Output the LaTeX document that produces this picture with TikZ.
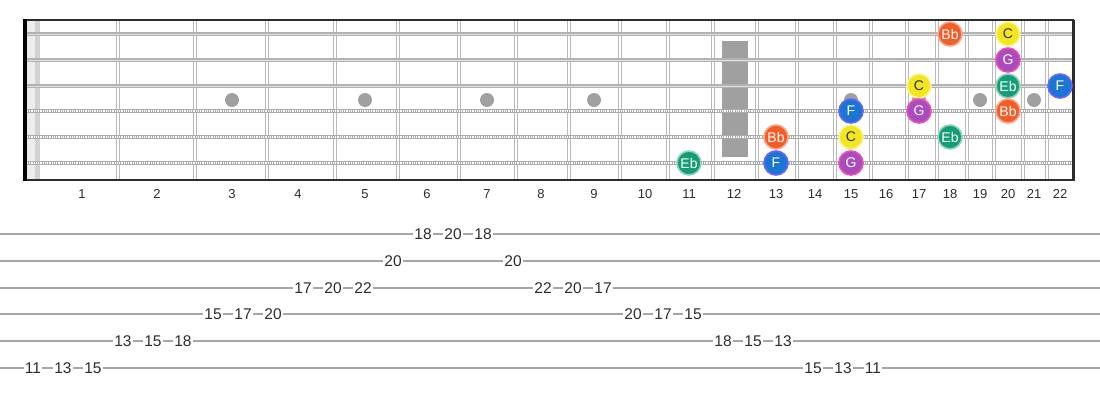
\documentclass[tikz,border=0pt]{standalone}
\usepackage{fontspec}
\setmainfont{Liberation Sans}
\usepackage{xcolor}
\definecolor{noteBb}{RGB}{244,92,40}
\definecolor{noteC}{RGB}{244,230,30}
\definecolor{noteG}{RGB}{168,76,190}
\definecolor{noteEb}{RGB}{20,158,118}
\definecolor{noteF}{RGB}{26,118,208}
\definecolor{inlay}{RGB}{160,160,160}
\definecolor{ink}{RGB}{45,45,45}

\begin{document}
\begin{tikzpicture}[x=1pt, y=-1pt,
  fret/.style={line width=4pt, draw=gray!55},
  fretgap/.style={line width=1.6pt, draw=white},
  plain/.style={line width=3.4pt, draw=gray!60},
  plaincore/.style={line width=1pt, draw=gray!25},
  wound/.style={line width=4.5pt, draw=gray!65},
  woundcore/.style={line width=2.6pt, draw=white, dash pattern=on 0.8pt off 1pt},
  tabline/.style={line width=2pt, draw=gray!70},
  fretnum/.style={font=\fontsize{13}{15}\selectfont, text=ink},
  tabnum/.style={font=\fontsize{15.5}{18}\selectfont, text=ink, fill=white, inner sep=1.2pt},
  note/.style={circle, minimum size=24pt, inner sep=0pt, line width=1.6pt, text=white, font=\fontsize{14}{16}\selectfont},
  Bb/.style={note, fill=noteBb, draw=noteBb!55!white},
  C/.style={note, fill=noteC, draw=noteC!45!white, text=ink},
  G/.style={note, fill=noteG, draw=magenta!70!white},
  Eb/.style={note, fill=noteEb, draw=noteEb!45!white},
  F/.style={note, fill=noteF, draw=blue!60!white}]
\useasboundingbox (0,0) rectangle (1100,400);

\foreach \s/\y in {1/34,2/60,3/86,4/111,5/137,6/163}
  \coordinate (s\s) at (0,\y);
\foreach \n/\x in {1/82,2/157,3/232,4/298,5/365,6/427,7/487,8/541,9/594,10/645,11/689,12/734,13/776,14/815,15/851,16/886,17/919,18/950,19/980,20/1008,21/1034,22/1060}
  \coordinate (m\n) at (\x,0);

\fill[gray!15] (27,20) rectangle (40,180);
\fill[gray!35] (35,20) rectangle (40,180);
\fill[inlay] (722,41) rectangle (748,157);
\foreach \n in {3,5,7,9,15,17,19,21}
  \fill[inlay] (m\n |- 0,100) circle (7);

\foreach \x in {118,195,267,335,398,459,516,569,620,668,713,757,797,835,871,907,937,967,994,1023,1047}
{
  \draw[fret] (\x,20) -- (\x,180);
  \draw[fretgap] (\x,20) -- (\x,180);
}

\foreach \s in {1,2,3}
{
  \draw[plain] (s\s) ++(27,0) -- ++(1045,0);
  \draw[plaincore] (s\s) ++(27,0) -- ++(1045,0);
}
\foreach \s in {4,5,6}
{
  \draw[wound] (s\s) ++(27,0) -- ++(1045,0);
  \draw[woundcore] (s\s) ++(27,0) -- ++(1045,0);
}

\draw[line width=2pt, ink] (23,20) -- (1074,20);
\draw[line width=2pt, ink] (23,180) -- (1074,180);
\draw[line width=3pt, ink] (1073,20) -- (1073,181);
\fill[black] (23,19) rectangle (27,181);

\foreach \n in {1,...,22}
  \node[fretnum] (fn\n) at (m\n |- 0,194) {\n};

\node[Bb] (bb1) at (m18 |- s1) {Bb};
\node[C]  (c1)  at (m20 |- s1) {C};
\node[G]  (g2)  at (m20 |- s2) {G};
\node[C]  (c3)  at (m17 |- s3) {C};
\node[Eb] (eb3) at (m20 |- s3) {Eb};
\node[F]  (f3)  at (m22 |- s3) {F};
\node[F]  (f4)  at (m15 |- s4) {F};
\node[G]  (g4)  at (m17 |- s4) {G};
\node[Bb] (bb4) at (m20 |- s4) {Bb};
\node[Bb] (bb5) at (m13 |- s5) {Bb};
\node[C]  (c5)  at (m15 |- s5) {C};
\node[Eb] (eb5) at (m18 |- s5) {Eb};
\node[Eb] (eb6) at (m11 |- s6) {Eb};
\node[F]  (f6)  at (m13 |- s6) {F};
\node[G]  (g6)  at (m15 |- s6) {G};

\foreach \t/\y in {1/234,2/261,3/288,4/314,5/341,6/368}
{
  \coordinate (t\t) at (0,\y);
  \draw[tabline] (t\t) -- ++(1100,0);
}
\foreach \t/\v [count=\k from 0] in {6/11,6/13,6/15,5/13,5/15,5/18,4/15,4/17,4/20,3/17,3/20,3/22,2/20,1/18,1/20,1/18,2/20,3/22,3/20,3/17,4/20,4/17,4/15,5/18,5/15,5/13,6/15,6/13,6/11}
  \path (t\t) ++({33+30*\k},0) node[tabnum] (tn\k) {\v};
\end{tikzpicture}
\end{document}
